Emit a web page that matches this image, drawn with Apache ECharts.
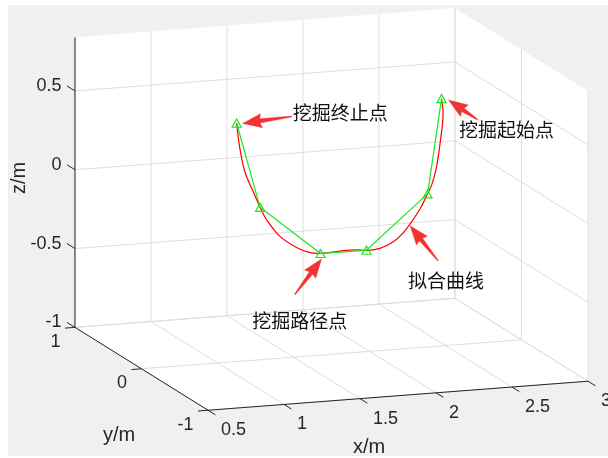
<!DOCTYPE html>
<html>
<head>
<meta charset="utf-8">
<script src="https://cdn.jsdelivr.net/npm/echarts@6/dist/echarts.min.js"></script>
<style>
  html, body { margin: 0; padding: 0; background: #ffffff; }
  #chart { width: 608px; height: 458px; }
</style>
</head>
<body>
<div id="chart"></div>
<script>
// ---- Excavation waypoints (m) ----
const pathX = [2.474, 2.382, 1.980, 1.678, 1.280, 1.126];
const pathY = [0, 0, 0, 0, 0, 0];
const pathZ = [0.569, -0.029, -0.357, -0.355, -0.033, 0.513];

// ---- Fitted trajectory samples (m) ----
const fitX = [2.474, 2.484, 2.464, 2.441, 2.414, 2.382, 2.336, 2.280, 2.220, 2.155, 2.069, 1.980, 1.914,
              1.806, 1.678, 1.609, 1.520, 1.411, 1.322, 1.280, 1.234, 1.181, 1.148, 1.130, 1.126];
const fitY = [0, 0, 0, 0, 0, 0, 0, 0, 0, 0, 0, 0, 0, 0, 0, 0, 0, 0, 0, 0, 0, 0, 0, 0, 0];
const fitZ = [0.569, 0.473, 0.283, 0.139, 0.039, -0.029, -0.115, -0.194, -0.266, -0.318, -0.351, -0.357, -0.350,
              -0.349, -0.355, -0.345, -0.305, -0.227, -0.113, -0.033, 0.072, 0.197, 0.345, 0.474, 0.513];

// ---- Axes ----
const xLim = [0.5, 3];
const yLim = [-1, 1];
const zLim = [-1, 0.84];
const xTicks = [0.5, 1, 1.5, 2, 2.5, 3];
const yTicks = [-1, 0, 1];
const zTicks = [-1, -0.5, 0, 0.5];
const xTickLabels = ['0.5', '1', '1.5', '2', '2.5', '3'];
const yTickLabels = ['-1', '0', '1'];
const zTickLabels = ['-1', '-0.5', '0', '0.5'];
const axisTitles = ['x/m', 'y/m', 'z/m'];

// ---- Annotation texts ----
const noteTexts = ['挖掘起始点', '挖掘终止点', '挖掘路径点', '拟合曲线'];

// ---- Orthographic view (azimuth / elevation in degrees) ----
const VIEW = { az: -19.3, el: 12.6, box: [1, 1, 0.738] };
const SCALE = 402.6;               // px per box unit
const CENTER = [331.5, 209.3];     // px position of the box centre
const W = 608, H = 458;

const rad = Math.PI / 180;
const ca = Math.cos(VIEW.az * rad), sa = Math.sin(VIEW.az * rad);
const ce = Math.cos(VIEW.el * rad), se = Math.sin(VIEW.el * rad);

function project(x, y, z) {
  const u = (x - (xLim[0] + xLim[1]) / 2) / (xLim[1] - xLim[0]) * VIEW.box[0];
  const v = (y - (yLim[0] + yLim[1]) / 2) / (yLim[1] - yLim[0]) * VIEW.box[1];
  const w = (z - (zLim[0] + zLim[1]) / 2) / (zLim[1] - zLim[0]) * VIEW.box[2];
  return [u * ca + v * sa, -u * se * sa + v * se * ca + w * ce];
}

const AXIS_COLOR = '#262626';
const GRID_COLOR = '#dedede';
const NUM_FONT = '18px "Liberation Sans", Arial, sans-serif';
const TITLE_FONT = '20px "Liberation Sans", Arial, sans-serif';
const CJK_FONT = '19px "Noto Sans CJK SC", sans-serif';

// ---- Box faces: back wall (y = max), right wall (x = max), floor (z = min) ----
const [x0, x1] = xLim, [y0, y1] = yLim, [z0, z1] = zLim;
const faces = [
  [[x0, y1, z0], [x1, y1, z0], [x1, y1, z1], [x0, y1, z1]],
  [[x1, y0, z0], [x1, y1, z0], [x1, y1, z1], [x1, y0, z1]],
  [[x0, y0, z0], [x1, y0, z0], [x1, y1, z0], [x0, y1, z0]]
];

// ---- Grid lines on the three visible faces ----
const gridSegs = [];
xTicks.forEach(x => {
  gridSegs.push([[x, y1, z0], [x, y1, z1]]);   // back wall
  gridSegs.push([[x, y0, z0], [x, y1, z0]]);   // floor
});
yTicks.forEach(y => {
  gridSegs.push([[x1, y, z0], [x1, y, z1]]);   // right wall
  gridSegs.push([[x0, y, z0], [x1, y, z0]]);   // floor
});
zTicks.forEach(z => {
  gridSegs.push([[x0, y1, z], [x1, y1, z]]);   // back wall
  gridSegs.push([[x1, y0, z], [x1, y1, z]]);   // right wall
});

// ---- Axis lines and tick marks ----
const axisSegs = [
  [[x0, y1, z0], [x0, y1, z1]],   // z axis
  [[x0, y1, z0], [x0, y0, z0]],   // y axis
  [[x0, y0, z0], [x1, y0, z0]]    // x axis
];
const tickSegs = [];
zTicks.forEach(z => tickSegs.push([[x0, y1, z], [x0, y1 + 0.12, z]]));
yTicks.forEach(y => tickSegs.push([[x0, y, z0], [x0 - 0.066, y, z0]]));
xTicks.forEach(x => tickSegs.push([[x, y0, z0], [x, y0 - 0.11, z0]]));

function segData(segs) {
  return segs.map(([a, b]) => project(a[0], a[1], a[2]).concat(project(b[0], b[1], b[2])));
}

function segSeries(segs, stroke, lineWidth, z) {
  return {
    type: 'custom', coordinateSystem: 'cartesian2d', z, silent: true, animation: false,
    encode: { x: [0, 2], y: [1, 3] },
    data: segData(segs),
    renderItem: (params, api) => {
      const p = api.coord([api.value(0), api.value(1)]);
      const q = api.coord([api.value(2), api.value(3)]);
      return {
        type: 'line',
        shape: { x1: p[0], y1: p[1], x2: q[0], y2: q[1] },
        style: { stroke, lineWidth, fill: null }
      };
    }
  };
}

// ---- Tick labels: anchored at the projected tick position ----
const tickLabelSets = [
  { pts: zTicks.map(z => [x0, y1, z]), texts: zTickLabels, off: [-13.5, -5], align: 'right' },
  { pts: yTicks.map(y => [x0, y, z0]), texts: yTickLabels, off: [-14.5, 14.5], align: 'right' },
  { pts: xTicks.map(x => [x, y0, z0]), texts: xTickLabels, off: [13, 20], align: 'left' }
];
const tickLabelItems = [];
tickLabelSets.forEach(set => set.pts.forEach((p, i) => {
  tickLabelItems.push({ value: project(p[0], p[1], p[2]), text: set.texts[i], off: set.off, align: set.align });
}));

// ---- Arrow annotations (pixel offsets from the projected target) ----
const notes = [
  { text: noteTexts[0], src: 'path', idx: 0, tip: [7, 1.5],  tail: [29, 19.5],    label: [-18.5, 10.5], align: 'left' },
  { text: noteTexts[1], src: 'path', idx: 5, tip: [6, 0.3],  tail: [49, -7],      label: [1, -3.5],     align: 'left' },
  { text: noteTexts[2], src: 'path', idx: 3, tip: [1, 5.5],  tail: [-26.7, 35.5], label: [5, 26],       align: 'center' },
  { text: noteTexts[3], src: 'fit',  idx: 7, tip: [-2, 4.7], tail: [28, 35],      label: [8, 19.5],     align: 'center' }
];
const noteData = notes.map(n => n.src === 'path'
  ? project(pathX[n.idx], pathY[n.idx], pathZ[n.idx])
  : project(fitX[n.idx], fitY[n.idx], fitZ[n.idx]));

function arrowPoints(T, S) {
  const dx = T[0] - S[0], dy = T[1] - S[1];
  const len = Math.hypot(dx, dy);
  const d = [dx / len, dy / len], n = [-d[1], d[0]];
  const L = 19, HW = 7, notch = 1.5, w0 = 0.5, w1 = 2.1;
  const at = (p, a, b) => [p[0] + d[0] * a + n[0] * b, p[1] + d[1] * a + n[1] * b];
  return [at(S, 0, w0), at(T, -(L - notch), w1), at(T, -L, HW), T,
          at(T, -L, -HW), at(T, -(L - notch), -w1), at(S, 0, -w0)];
}

const chart = echarts.init(document.getElementById('chart'), null, { renderer: 'canvas' });

const option = {
  animation: false,
  backgroundColor: '#ffffff',
  grid: { left: 0, right: 0, top: 0, bottom: 0, containLabel: false },
  xAxis: { type: 'value', min: -CENTER[0] / SCALE, max: (W - CENTER[0]) / SCALE, show: false },
  yAxis: { type: 'value', min: -(H - CENTER[1]) / SCALE, max: CENTER[1] / SCALE, show: false },
  graphic: [
    { type: 'rect', z: -10, silent: true, shape: { x: 8, y: 5, width: 600, height: 451 }, style: { fill: '#f0f0f0' } },
    { type: 'text', z: 10, x: 19, y: 178, rotation: Math.PI / 2,
      style: { text: axisTitles[2], font: TITLE_FONT, fill: AXIS_COLOR, align: 'center', verticalAlign: 'middle',
               textAlign: 'center', textVerticalAlign: 'middle' } },
    { type: 'text', z: 10, x: 119, y: 435,
      style: { text: axisTitles[1], font: TITLE_FONT, fill: AXIS_COLOR, align: 'center', verticalAlign: 'middle',
               textAlign: 'center', textVerticalAlign: 'middle' } },
    { type: 'text', z: 10, x: 369, y: 447,
      style: { text: axisTitles[0], font: TITLE_FONT, fill: AXIS_COLOR, align: 'center', verticalAlign: 'middle',
               textAlign: 'center', textVerticalAlign: 'middle' } }
  ],
  series: [
    {
      type: 'custom', coordinateSystem: 'cartesian2d', z: 1, silent: true, animation: false,
      encode: { x: [0, 2, 4, 6], y: [1, 3, 5, 7] },
      data: faces.map(f => f.reduce((acc, p) => acc.concat(project(p[0], p[1], p[2])), [])),
      renderItem: (params, api) => {
        const points = [0, 1, 2, 3].map(i => api.coord([api.value(2 * i), api.value(2 * i + 1)]));
        return { type: 'polygon', shape: { points }, style: { fill: '#ffffff', stroke: '#ffffff', lineWidth: 0.5 } };
      }
    },
    segSeries(gridSegs, GRID_COLOR, 1, 2),
    segSeries(axisSegs, AXIS_COLOR, 1, 3),
    segSeries(tickSegs, AXIS_COLOR, 1, 3),
    {
      type: 'custom', coordinateSystem: 'cartesian2d', z: 3, silent: true, animation: false,
      data: tickLabelItems.map(t => t.value),
      renderItem: (params, api) => {
        const item = tickLabelItems[params.dataIndex];
        const p = api.coord([api.value(0), api.value(1)]);
        return {
          type: 'text',
          style: {
            text: item.text, x: p[0] + item.off[0], y: p[1] + item.off[1],
            font: NUM_FONT, fill: AXIS_COLOR,
            align: item.align, verticalAlign: 'middle', textAlign: item.align, textVerticalAlign: 'middle'
          }
        };
      }
    },
    {
      name: '拟合曲线', type: 'line', z: 5, silent: true, animation: false,
      data: fitX.map((x, i) => project(x, fitY[i], fitZ[i])),
      smooth: 0.35, showSymbol: false, symbol: 'none',
      lineStyle: { color: '#ff0000', width: 1.2 }
    },
    {
      name: '挖掘路径点', type: 'line', z: 6, silent: true, animation: false,
      data: pathX.map((x, i) => project(x, pathY[i], pathZ[i])),
      symbol: 'triangle', symbolSize: [9, 8], showAllSymbol: true,
      lineStyle: { color: '#1ee61e', width: 1.2 },
      itemStyle: { color: 'rgba(255,255,255,0)', borderColor: '#1ee61e', borderWidth: 1.2 }
    },
    {
      type: 'custom', coordinateSystem: 'cartesian2d', z: 8, silent: true, animation: false,
      data: noteData,
      renderItem: (params, api) => {
        const n = notes[params.dataIndex];
        const p = api.coord([api.value(0), api.value(1)]);
        const T = [p[0] + n.tip[0], p[1] + n.tip[1]];
        const S = [T[0] + n.tail[0], T[1] + n.tail[1]];
        return {
          type: 'group',
          children: [
            { type: 'polygon', shape: { points: arrowPoints(T, S) }, style: { fill: '#f23333', stroke: '#f23333', lineWidth: 0.4 } },
            { type: 'text', style: {
                text: n.text, x: S[0] + n.label[0], y: S[1] + n.label[1], font: CJK_FONT, fill: '#111111',
                align: n.align, verticalAlign: 'middle', textAlign: n.align, textVerticalAlign: 'middle' } }
          ]
        };
      }
    }
  ]
};

chart.setOption(option);
</script>
</body>
</html>
